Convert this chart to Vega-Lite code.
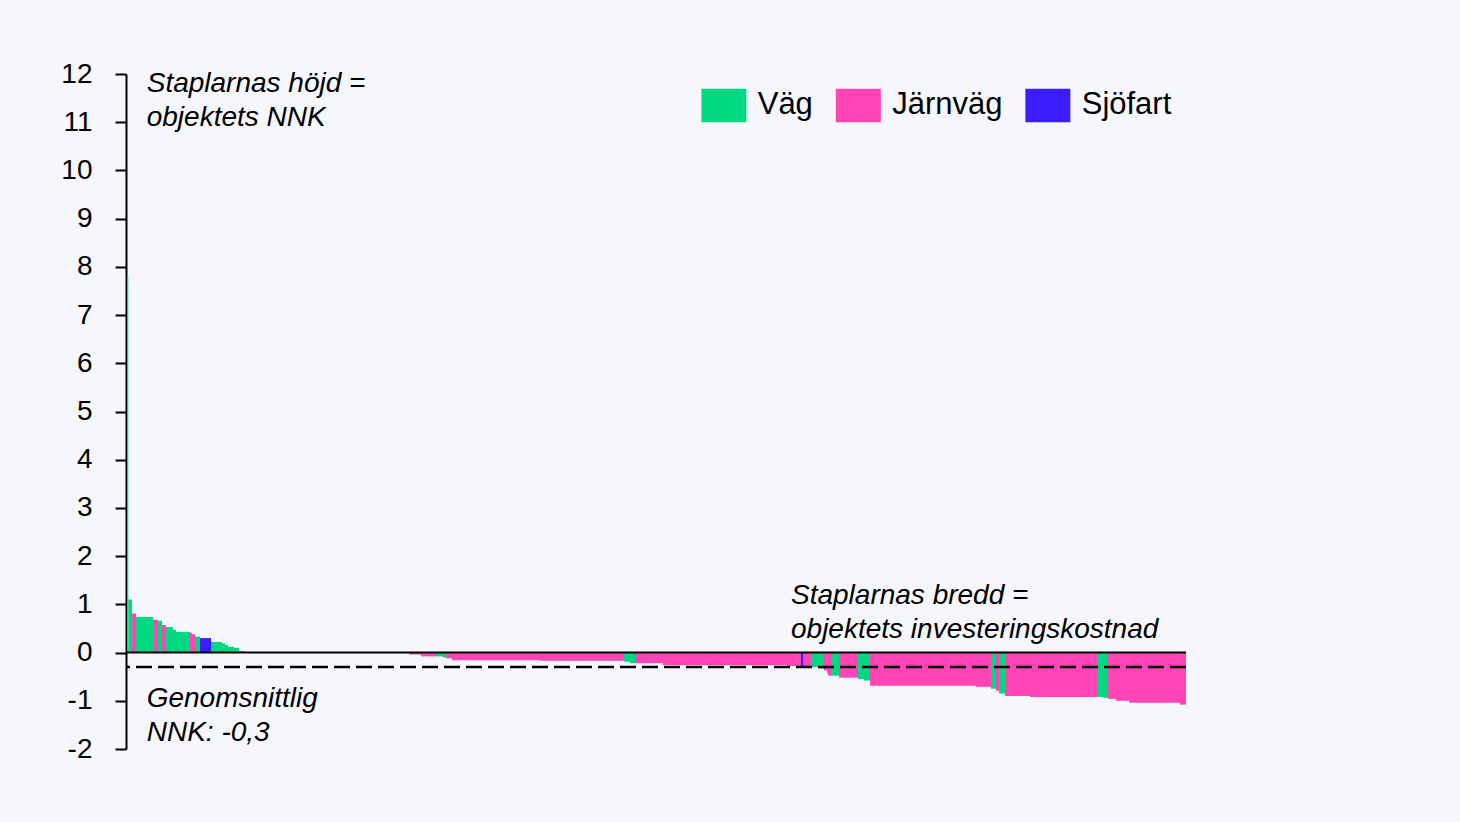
{
  "$schema": "https://vega.github.io/schema/vega-lite/v6.json",
  "width": 1059,
  "height": 675,
  "autosize": "none",
  "padding": {"left": 127, "top": 74, "right": 274, "bottom": 73},
  "background": "#F5F7FC",
  "config": {
    "view": {"stroke": null},
    "font": "Liberation Sans"
  },
  "datasets": {
    "objekt": [
      {"nr": 1, "trafikslag": "Väg", "kostnad": 1.3, "nnk": 7.8},
      {"nr": 2, "trafikslag": "Väg", "kostnad": 3.7, "nnk": 1.1},
      {"nr": 3, "trafikslag": "Järnväg", "kostnad": 4, "nnk": 0.81},
      {"nr": 4, "trafikslag": "Väg", "kostnad": 17, "nnk": 0.74},
      {"nr": 5, "trafikslag": "Järnväg", "kostnad": 5, "nnk": 0.68},
      {"nr": 6, "trafikslag": "Väg", "kostnad": 4, "nnk": 0.66},
      {"nr": 7, "trafikslag": "Järnväg", "kostnad": 4, "nnk": 0.57},
      {"nr": 8, "trafikslag": "Väg", "kostnad": 7, "nnk": 0.53},
      {"nr": 9, "trafikslag": "Väg", "kostnad": 3, "nnk": 0.47},
      {"nr": 10, "trafikslag": "Väg", "kostnad": 14, "nnk": 0.43},
      {"nr": 11, "trafikslag": "Järnväg", "kostnad": 2, "nnk": 0.41},
      {"nr": 12, "trafikslag": "Järnväg", "kostnad": 3, "nnk": 0.38},
      {"nr": 13, "trafikslag": "Väg", "kostnad": 5, "nnk": 0.33},
      {"nr": 14, "trafikslag": "Sjöfart", "kostnad": 11, "nnk": 0.3},
      {"nr": 15, "trafikslag": "Väg", "kostnad": 11, "nnk": 0.22},
      {"nr": 16, "trafikslag": "Väg", "kostnad": 3, "nnk": 0.19},
      {"nr": 17, "trafikslag": "Väg", "kostnad": 3, "nnk": 0.16},
      {"nr": 18, "trafikslag": "Väg", "kostnad": 6, "nnk": 0.12},
      {"nr": 19, "trafikslag": "Väg", "kostnad": 5, "nnk": 0.1},
      {"nr": 20, "trafikslag": "Järnväg", "kostnad": 6, "nnk": 0.03},
      {"nr": 21, "trafikslag": "Järnväg", "kostnad": 45, "nnk": 0},
      {"nr": 22, "trafikslag": "Väg", "kostnad": 40, "nnk": 0},
      {"nr": 23, "trafikslag": "Järnväg", "kostnad": 79, "nnk": 0},
      {"nr": 24, "trafikslag": "Järnväg", "kostnad": 12, "nnk": -0.04},
      {"nr": 25, "trafikslag": "Järnväg", "kostnad": 15, "nnk": -0.08},
      {"nr": 26, "trafikslag": "Väg", "kostnad": 7, "nnk": -0.08},
      {"nr": 27, "trafikslag": "Järnväg", "kostnad": 3, "nnk": -0.1},
      {"nr": 28, "trafikslag": "Väg", "kostnad": 2, "nnk": -0.12},
      {"nr": 29, "trafikslag": "Järnväg", "kostnad": 4, "nnk": -0.12},
      {"nr": 30, "trafikslag": "Järnväg", "kostnad": 88, "nnk": -0.16},
      {"nr": 31, "trafikslag": "Järnväg", "kostnad": 84, "nnk": -0.17},
      {"nr": 32, "trafikslag": "Väg", "kostnad": 6, "nnk": -0.19},
      {"nr": 33, "trafikslag": "Väg", "kostnad": 6, "nnk": -0.22},
      {"nr": 34, "trafikslag": "Järnväg", "kostnad": 27, "nnk": -0.22},
      {"nr": 35, "trafikslag": "Järnväg", "kostnad": 124, "nnk": -0.26},
      {"nr": 36, "trafikslag": "Järnväg", "kostnad": 8, "nnk": -0.28},
      {"nr": 37, "trafikslag": "Väg", "kostnad": 1, "nnk": -0.28},
      {"nr": 38, "trafikslag": "Järnväg", "kostnad": 5, "nnk": -0.28},
      {"nr": 39, "trafikslag": "Sjöfart", "kostnad": 2, "nnk": -0.28},
      {"nr": 40, "trafikslag": "Järnväg", "kostnad": 8, "nnk": -0.29},
      {"nr": 41, "trafikslag": "Väg", "kostnad": 9, "nnk": -0.3},
      {"nr": 42, "trafikslag": "Väg", "kostnad": 4, "nnk": -0.33},
      {"nr": 43, "trafikslag": "Järnväg", "kostnad": 3, "nnk": -0.37},
      {"nr": 44, "trafikslag": "Väg", "kostnad": 1, "nnk": -0.43},
      {"nr": 45, "trafikslag": "Järnväg", "kostnad": 3, "nnk": -0.48},
      {"nr": 46, "trafikslag": "Väg", "kostnad": 8, "nnk": -0.48},
      {"nr": 47, "trafikslag": "Järnväg", "kostnad": 19, "nnk": -0.52},
      {"nr": 48, "trafikslag": "Väg", "kostnad": 6, "nnk": -0.55},
      {"nr": 49, "trafikslag": "Väg", "kostnad": 6, "nnk": -0.58},
      {"nr": 50, "trafikslag": "Järnväg", "kostnad": 106, "nnk": -0.69},
      {"nr": 51, "trafikslag": "Järnväg", "kostnad": 15, "nnk": -0.71},
      {"nr": 52, "trafikslag": "Väg", "kostnad": 5, "nnk": -0.75},
      {"nr": 53, "trafikslag": "Järnväg", "kostnad": 3, "nnk": -0.79},
      {"nr": 54, "trafikslag": "Väg", "kostnad": 6, "nnk": -0.85},
      {"nr": 55, "trafikslag": "Järnväg", "kostnad": 25, "nnk": -0.9},
      {"nr": 56, "trafikslag": "Järnväg", "kostnad": 67, "nnk": -0.92},
      {"nr": 57, "trafikslag": "Väg", "kostnad": 7, "nnk": -0.92},
      {"nr": 58, "trafikslag": "Väg", "kostnad": 4, "nnk": -0.94},
      {"nr": 59, "trafikslag": "Järnväg", "kostnad": 8, "nnk": -0.96},
      {"nr": 60, "trafikslag": "Järnväg", "kostnad": 13, "nnk": -1.0},
      {"nr": 61, "trafikslag": "Järnväg", "kostnad": 51, "nnk": -1.04},
      {"nr": 62, "trafikslag": "Järnväg", "kostnad": 6, "nnk": -1.08}
    ],
    "medel": [
      {"nnk": -0.3}
    ],
    "noteringar": [
      {"kostnad": 19.7, "nnk": 11.62, "rader": ["Staplarnas höjd =", "objektets NNK"]},
      {"kostnad": 664, "nnk": 1.01, "rader": ["Staplarnas bredd =", "objektets investeringskostnad"]},
      {"kostnad": 19.7, "nnk": -1.135, "rader": ["Genomsnittlig", "NNK: -0,3"]}
    ]
  },
  "layer": [
    {
      "data": {"name": "objekt"},
      "transform": [
        {"stack": "kostnad", "groupby": [], "sort": [{"field": "nr", "order": "ascending"}], "as": ["x0", "x1"]}
      ],
      "mark": {"type": "rect"},
      "encoding": {
        "x": {"field": "x0", "type": "quantitative", "scale": {"domain": [0, 1059], "nice": false, "zero": false}, "axis": null},
        "x2": {"field": "x1"},
        "y": {
          "field": "nnk",
          "type": "quantitative",
          "scale": {"domain": [-2, 12], "nice": false},
          "axis": {
            "title": null,
            "values": [-2, -1, 0, 1, 2, 3, 4, 5, 6, 7, 8, 9, 10, 11, 12],
            "labelExpr": "datum.value < 0 ? '-' + abs(datum.value) : '' + datum.value",
            "grid": false,
            "offset": 1,
            "domainColor": "black",
            "domainWidth": 2,
            "tickColor": "black",
            "tickWidth": 2,
            "tickSize": 11,
            "labelColor": "black",
            "labelFont": "Liberation Sans",
            "labelFontSize": 28,
            "labelPadding": 23
          }
        },
        "y2": {"datum": 0},
        "color": {
          "field": "trafikslag",
          "type": "nominal",
          "scale": {"domain": ["Väg", "Järnväg", "Sjöfart"], "range": ["#00D982", "#FF45B5", "#3A1CFF"]},
          "legend": {
            "title": null,
            "orient": "none",
            "legendX": 579.85,
            "legendY": 14.3,
            "direction": "horizontal",
            "padding": 0,
            "symbolType": "M-1.35,-1H1.35V1H-1.35Z",
            "symbolSize": 1111,
            "symbolStrokeWidth": 0,
            "symbolOpacity": 1,
            "labelFont": "Liberation Sans",
            "labelFontSize": 31,
            "labelColor": "black",
            "labelOffset": 16.85,
            "columnPadding": 21.5
          }
        }
      }
    },
    {
      "data": {"name": "medel"},
      "mark": {"type": "rule", "color": "black", "strokeWidth": 2.5, "strokeDash": [16, 6]},
      "encoding": {"y": {"field": "nnk", "type": "quantitative"}}
    },
    {
      "data": {"values": [{"nnk": 0}]},
      "mark": {"type": "rule", "color": "black", "strokeWidth": 2},
      "encoding": {"y": {"field": "nnk", "type": "quantitative"}}
    },
    {
      "data": {"name": "noteringar"},
      "mark": {"type": "text", "align": "left", "baseline": "alphabetic", "fontSize": 28, "fontStyle": "italic", "font": "Liberation Sans", "lineHeight": 34, "color": "black"},
      "encoding": {
        "x": {"field": "kostnad", "type": "quantitative"},
        "y": {"field": "nnk", "type": "quantitative"},
        "text": {"field": "rader"}
      }
    }
  ]
}
